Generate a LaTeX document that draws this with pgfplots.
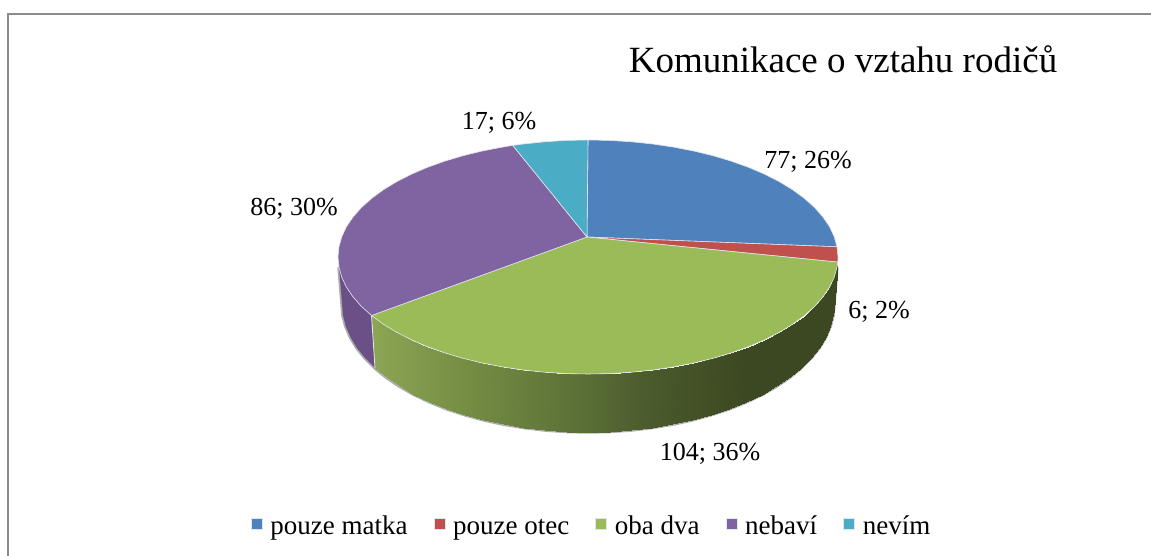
\documentclass[border=0pt]{standalone}
\usepackage{pgfplots}
\pgfplotsset{compat=1.18}
\usepackage{fontspec}
\setmainfont{Liberation Serif}
\definecolor{sblue}{RGB}{79,129,189}
\definecolor{sred}{RGB}{192,80,77}
\definecolor{sgreen}{RGB}{155,187,89}
\definecolor{spurple}{RGB}{128,100,162}
\definecolor{steal}{RGB}{75,172,198}
\definecolor{wallpurple}{RGB}{107,80,136}
\definecolor{rim}{RGB}{225,230,235}
\newcommand{\lab}{\fontsize{26}{30}\selectfont}
\begin{document}
\begin{tikzpicture}
\useasboundingbox (0,0) rectangle (1151pt,556pt);
\begin{axis}[
  hide axis, scale only axis,
  width=1151pt, height=556pt,
  xmin=0, xmax=1151, ymin=0, ymax=556,
  y dir=reverse, clip=false,
  colormap={wallgreen}{rgb255=(140,166,84) rgb255=(118,141,68) rgb255=(96,118,57) rgb255=(74,90,44) rgb255=(60,72,33) rgb255=(60,72,33)},
  point meta min=370, point meta max=840,
  legend columns=-1,
  legend style={at={(axis cs:591.5,525)}, anchor=center, draw=none, fill=none,
    font=\fontsize{27}{30}\selectfont, inner sep=0pt, outer sep=0pt,
    /tikz/every even column/.append style={column sep=24pt},
    /tikz/every odd column/.append style={column sep=6pt}},
  legend image code/.code={\fill[#1] (0pt,-4.5pt) rectangle (11pt,6.5pt);},
]
% frame
\addplot[color=black!45, line width=2pt, forget plot] coordinates {(8,556) (8,14) (1151,14)};

% soft shadow under the wall
\addplot[color=black!32, line width=3.5pt, forget plot] coordinates {
  (837.0,267.2) (833.1,315.2) (830.3,326.2) (825.6,337.1) (819.2,347.8) (810.9,358.1) (801.0,368.0)
  (789.5,377.4) (776.4,386.3) (761.9,394.5) (746.1,402.0) (729.1,408.9) (711.0,414.8)
  (692.0,420.0) (672.1,424.3) (651.7,427.6) (630.7,430.1) (609.5,431.5) (588.0,432.0)
  (566.5,431.5) (545.3,430.1) (524.3,427.6) (503.9,424.3) (484.0,420.0) (465.0,414.8)
  (446.9,408.9) (429.9,402.0) (414.1,394.5) (399.6,386.3) (386.5,377.4) (375.0,368.0)
  (365.1,358.1) (356.8,347.8) (350.4,337.1) (345.7,326.2) (342.9,315.2) (339.0,267.2)};

% purple wall
\addplot[fill=wallpurple, draw=none, forget plot] coordinates {
  (371.5,315.5) (361.4,306.4) (353.1,297.0) (346.5,287.3) (341.8,277.3) (339.0,267.2)
  (342.9,315.2) (345.7,326.2) (350.4,337.1) (356.8,347.8) (365.1,358.1) (375.0,368.0)} --cycle;

% green wall: upper edge, then lower edge
\addplot[surf, shader=interp, mesh/cols=31, point meta=x, forget plot] table {
x y
837.8 262.1
837.0 267.2
834.2 277.3
829.5 287.3
822.9 297.0
814.6 306.4
804.5 315.5
792.8 324.1
779.5 332.2
764.8 339.7
748.7 346.6
731.4 352.8
713.0 358.3
693.7 363.0
673.5 366.9
652.7 370.0
631.4 372.2
609.8 373.6
588.0 374.0
566.2 373.6
544.6 372.2
523.3 370.0
502.5 366.9
482.3 363.0
463.0 358.3
444.6 352.8
427.3 346.6
411.2 339.7
396.5 332.2
383.2 324.1
371.5 315.5
833.8 309.6
833.1 315.2
830.3 326.2
825.6 337.1
819.2 347.8
810.9 358.1
801.0 368.0
789.5 377.4
776.4 386.3
761.9 394.5
746.1 402.0
729.1 408.9
711.0 414.8
692.0 420.0
672.1 424.3
651.7 427.6
630.7 430.1
609.5 431.5
588.0 432.0
566.5 431.5
545.3 430.1
524.3 427.6
503.9 424.3
484.0 420.0
465.0 414.8
446.9 408.9
429.9 402.0
414.1 394.5
399.6 386.3
386.5 377.4
375.0 368.0
};
\addplot[color=rim, line width=0.8pt, forget plot] coordinates {(371.5,315.5) (375.0,368.0)};

% top face
\addplot[fill=sblue, draw=rim, line width=0.6pt] coordinates {
  (587,237) (588.0,140.0) (609.8,140.4) (631.4,141.8) (652.7,144.0) (673.5,147.1) (693.7,151.0)
  (713.0,155.7) (731.4,161.2) (748.7,167.4) (764.8,174.3) (779.5,181.8) (792.8,189.9)
  (804.5,198.5) (814.6,207.6) (822.9,217.0) (829.5,226.7) (834.2,236.7) (837.0,246.8)} --cycle;
\addlegendentry{\strut pouze matka}
\addplot[fill=sred, draw=rim, line width=0.6pt] coordinates {
  (587,237) (837.0,246.8) (838.0,257.0) (837.8,262.1)} --cycle;
\addlegendentry{\strut pouze otec}
\addplot[fill=sgreen, draw=rim, line width=0.6pt] coordinates {
  (587,237) (837.8,262.1) (837.0,267.2) (834.2,277.3) (829.5,287.3) (822.9,297.0) (814.6,306.4)
  (804.5,315.5) (792.8,324.1) (779.5,332.2) (764.8,339.7) (748.7,346.6) (731.4,352.8)
  (713.0,358.3) (693.7,363.0) (673.5,366.9) (652.7,370.0) (631.4,372.2) (609.8,373.6)
  (588.0,374.0) (566.2,373.6) (544.6,372.2) (523.3,370.0) (502.5,366.9) (482.3,363.0)
  (463.0,358.3) (444.6,352.8) (427.3,346.6) (411.2,339.7) (396.5,332.2) (383.2,324.1)
  (371.5,315.5)} --cycle;
\addlegendentry{\strut oba dva}
\addplot[fill=spurple, draw=rim, line width=0.6pt] coordinates {
  (587,237) (371.5,315.5) (361.4,306.4) (353.1,297.0) (346.5,287.3) (341.8,277.3) (339.0,267.2)
  (338.0,257.0) (339.0,246.8) (341.8,236.7) (346.5,226.7) (353.1,217.0) (361.4,207.6)
  (371.5,198.5) (383.2,189.9) (396.5,181.8) (411.2,174.3) (427.3,167.4) (444.6,161.2)
  (463.0,155.7) (482.3,151.0) (502.5,147.1) (512.8,145.4)} --cycle;
\addlegendentry{\strut nebaví}
\addplot[fill=steal, draw=rim, line width=0.6pt] coordinates {
  (587,237) (512.8,145.4) (523.3,144.0) (544.6,141.8) (566.2,140.4) (588.0,140.0)} --cycle;
\addlegendentry{\strut nevím}

\node[font=\fontsize{37}{40}\selectfont, anchor=center] at (axis cs:843,59) {Komunikace o vztahu rodičů};
\node[font=\lab] at (axis cs:808,162) {77; 26\%};
\node[font=\lab] at (axis cs:879,312) {6; 2\%};
\node[font=\lab] at (axis cs:710,454) {104; 36\%};
\node[font=\lab] at (axis cs:294,209) {86; 30\%};
\node[font=\lab] at (axis cs:499,123) {17; 6\%};
\end{axis}
\end{tikzpicture}
\end{document}
